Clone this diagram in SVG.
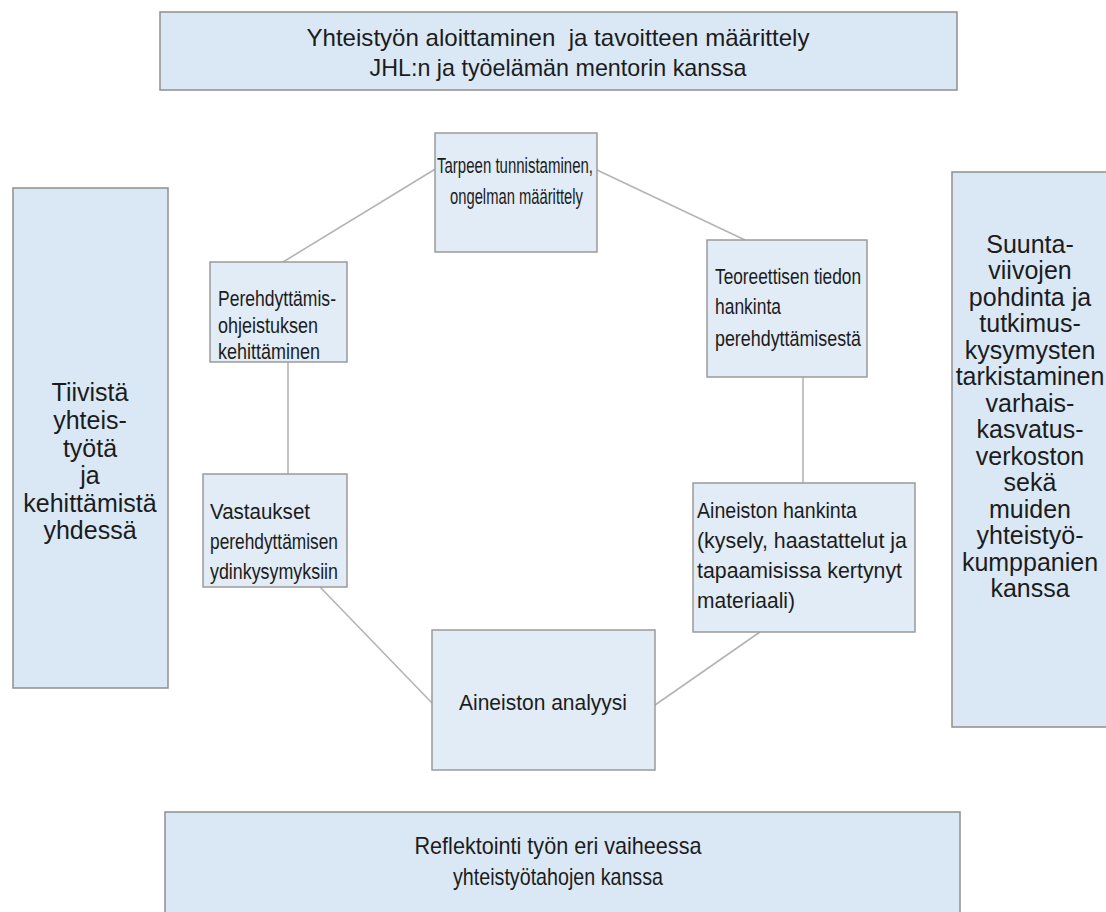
<svg xmlns="http://www.w3.org/2000/svg" width="1106" height="912" viewBox="0 0 1106 912">
<style>
.big{fill:#dae8f6;stroke:#8e8e8e;stroke-width:1.5}
.box{fill:#e1ecf7;stroke:#9a9a9a;stroke-width:1.5}
.t{font-family:"Liberation Sans",Arial,sans-serif;fill:#1c1c1c;white-space:pre}
.c{text-anchor:middle}
.s{font-size:25px}
.m{font-size:24px}
.n{font-size:22px}
.conn line{stroke:#b4b4b4;stroke-width:1.6}
</style>
<rect width="1106" height="912" fill="#ffffff"/>
<g class="conn" id="connectors">
<line x1="437" y1="168" x2="283" y2="262"/>
<line x1="597" y1="170" x2="745" y2="240"/>
<line x1="288" y1="362" x2="288" y2="474"/>
<line x1="803" y1="377" x2="803" y2="483"/>
<line x1="320" y1="587" x2="432" y2="703"/>
<line x1="760" y1="632" x2="655" y2="705"/>
</g>
<g id="top">
<rect class="big" x="160" y="12" width="797" height="78"/>
<text class="t m c" x="558" y="46" textLength="503" lengthAdjust="spacingAndGlyphs">Yhteistyön aloittaminen  ja tavoitteen määrittely</text>
<text class="t m c" x="558" y="76" textLength="377" lengthAdjust="spacingAndGlyphs">JHL:n ja työelämän mentorin kanssa</text>
</g>
<g id="left">
<rect class="big" x="13" y="188" width="155" height="500"/>
<text class="t s c" x="90" y="401">Tiivistä</text>
<text class="t s c" x="90" y="429">yhteis-</text>
<text class="t s c" x="90" y="457">työtä</text>
<text class="t s c" x="90" y="484">ja</text>
<text class="t s c" x="90" y="512">kehittämistä</text>
<text class="t s c" x="90" y="539">yhdessä</text>
</g>
<g id="right">
<rect class="big" x="952" y="172" width="170" height="555"/>
<text class="t s c" x="1030" y="253">Suunta-</text>
<text class="t s c" x="1030" y="279">viivojen</text>
<text class="t s c" x="1030" y="306">pohdinta ja</text>
<text class="t s c" x="1030" y="332">tutkimus-</text>
<text class="t s c" x="1030" y="359">kysymysten</text>
<text class="t s c" x="1030" y="385">tarkistaminen</text>
<text class="t s c" x="1030" y="412">varhais-</text>
<text class="t s c" x="1030" y="438">kasvatus-</text>
<text class="t s c" x="1030" y="465">verkoston</text>
<text class="t s c" x="1030" y="491">sekä</text>
<text class="t s c" x="1030" y="518">muiden</text>
<text class="t s c" x="1030" y="544">yhteistyö-</text>
<text class="t s c" x="1030" y="571">kumppanien</text>
<text class="t s c" x="1030" y="597">kanssa</text>
</g>
<g id="n1">
<rect class="box" x="435" y="133" width="162" height="119"/>
<text class="t n" x="437" y="173" textLength="156" lengthAdjust="spacingAndGlyphs">Tarpeen tunnistaminen,</text>
<text class="t n" x="450" y="204" textLength="133" lengthAdjust="spacingAndGlyphs">ongelman määrittely</text>
</g>
<g id="n2">
<rect class="box" x="707" y="240" width="160" height="137"/>
<text class="t n" x="715" y="284" textLength="146" lengthAdjust="spacingAndGlyphs">Teoreettisen tiedon</text>
<text class="t n" x="715" y="314" textLength="66" lengthAdjust="spacingAndGlyphs">hankinta</text>
<text class="t n" x="715" y="346" textLength="146" lengthAdjust="spacingAndGlyphs">perehdyttämisestä</text>
</g>
<g id="n3">
<rect class="box" x="693" y="483" width="222" height="149"/>
<text class="t n" x="697" y="518" textLength="160" lengthAdjust="spacingAndGlyphs">Aineiston hankinta</text>
<text class="t n" x="697" y="548" textLength="210" lengthAdjust="spacingAndGlyphs">(kysely, haastattelut ja</text>
<text class="t n" x="697" y="578" textLength="205" lengthAdjust="spacingAndGlyphs">tapaamisissa kertynyt</text>
<text class="t n" x="697" y="608" textLength="98" lengthAdjust="spacingAndGlyphs">materiaali)</text>
</g>
<g id="n4">
<rect class="box" x="432" y="630" width="223" height="140"/>
<text class="t n c" x="543" y="710" textLength="168" lengthAdjust="spacingAndGlyphs">Aineiston analyysi</text>
</g>
<g id="n5">
<rect class="box" x="203" y="474" width="144" height="113"/>
<text class="t n" x="210" y="519" textLength="100" lengthAdjust="spacingAndGlyphs">Vastaukset</text>
<text class="t n" x="210" y="549" textLength="128" lengthAdjust="spacingAndGlyphs">perehdyttämisen</text>
<text class="t n" x="210" y="579" textLength="128" lengthAdjust="spacingAndGlyphs">ydinkysymyksiin</text>
</g>
<g id="n6">
<rect class="box" x="210" y="262" width="137" height="100"/>
<text class="t n" x="218" y="306" textLength="118" lengthAdjust="spacingAndGlyphs">Perehdyttämis-</text>
<text class="t n" x="218" y="333" textLength="100" lengthAdjust="spacingAndGlyphs">ohjeistuksen</text>
<text class="t n" x="218" y="359" textLength="102" lengthAdjust="spacingAndGlyphs">kehittäminen</text>
</g>
<g id="bottom">
<rect class="big" x="165" y="812" width="795" height="110"/>
<text class="t m c" x="558" y="854" textLength="287" lengthAdjust="spacingAndGlyphs">Reflektointi työn eri vaiheessa</text>
<text class="t m c" x="558" y="885" textLength="210" lengthAdjust="spacingAndGlyphs">yhteistyötahojen kanssa</text>
</g>
</svg>
